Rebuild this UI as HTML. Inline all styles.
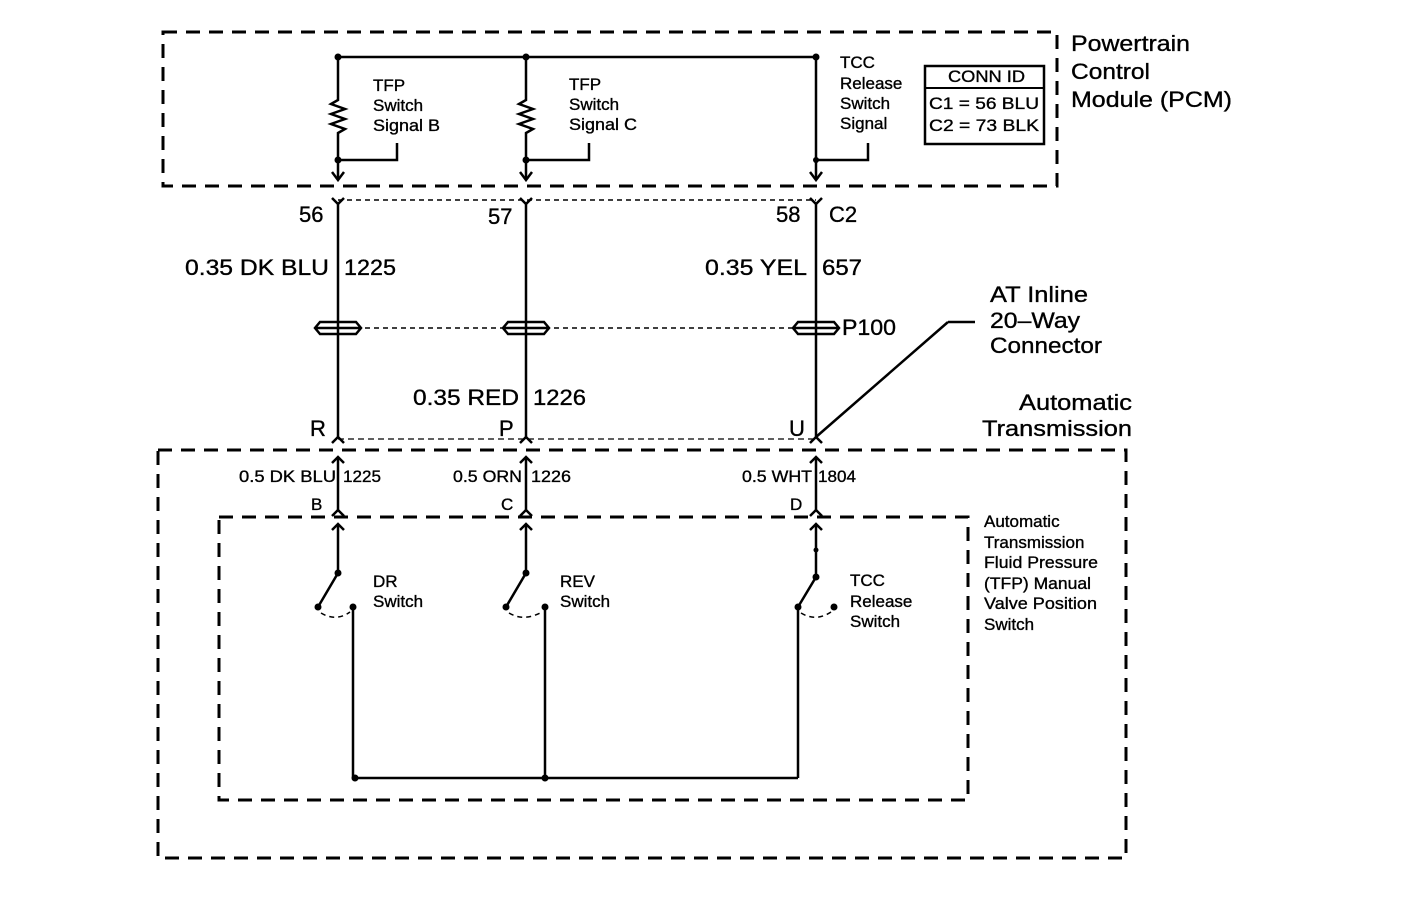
<!DOCTYPE html>
<html><head><style>html,body{margin:0;padding:0;background:#fff}svg{display:block}text{font-family:"Liberation Sans",Arial,sans-serif;fill:#000;stroke:#000;stroke-width:0.35}</style></head><body>
<svg width="1408" height="904" viewBox="0 0 1408 904" xmlns="http://www.w3.org/2000/svg">
<g fill="none" stroke="#000">
<rect x="163" y="32" width="894" height="154" stroke-width="3" stroke-dasharray="14,9"/>
<rect x="158" y="450" width="968" height="408" stroke-width="3" stroke-dasharray="14,9"/>
<rect x="219" y="517" width="749" height="283" stroke-width="3" stroke-dasharray="14,9"/>
<g stroke-width="2.5">
<path d="M338 57H816"/>
<path d="M338 57V100l-7 4 14 5-14 5 14 5-14 5 14 5-7 4V180"/>
<path d="M526 57V100l-7 4 14 5-14 5 14 5-14 5 14 5-7 4V180"/>
<path d="M816 57V180"/>
<path d="M338 160H397V143M526 160H589V143M816 160H868V143"/>
<path d="M332 172l6 8 6-8M520 172l6 8 6-8M810 172l6 8 6-8"/>
<path d="M332 198l6 6 6-6M520 198l6 6 6-6M810 198l6 6 6-6"/>
<path d="M338 204V437M526 204V437M816 204V437"/>
<path d="M332 443l6-6 6 6M520 443l6-6 6 6M810 443l6-6 6 6"/>
<path d="M332 463l6-6 6 6M520 463l6-6 6 6M810 463l6-6 6 6"/>
<path d="M338 457V510M526 457V510M816 457V510"/>
<path d="M332 516l6-6 6 6M520 516l6-6 6 6M810 516l6-6 6 6"/>
<path d="M332 530l6-6 6 6M520 530l6-6 6 6M810 530l6-6 6 6"/>
<path d="M338 524V573L318 607M526 524V573L506 607M816 524V577L798 607"/>
<path d="M353 607V778M545 607V778M798 607V778M355 778H798"/>
<path d="M948 322L816 437M948 322H975"/>
</g>
<g stroke-width="1.5" stroke-dasharray="5,4">
<path d="M338 200H816M338 328H816"/>
<path d="M321 613Q336 622 350 612M509 613Q524 622 542 612M801 613Q816 622 831 612"/>
</g>
<g stroke-width="1.2" stroke-dasharray="6,4">
<path d="M338 439H816"/>
</g>
<g stroke-width="2.5">
<path d="M320 322h36l5 6-5 6h-36l-5-6z M316 328h44"/>
<path d="M508 322h36l5 6-5 6h-36l-5-6z M504 328h44"/>
<path d="M798 322h36l5 6-5 6h-36l-5-6z M794 328h44"/>
</g>
<rect x="925" y="66" width="119" height="78" stroke-width="2.5"/>
<path d="M925 88H1044" stroke-width="2"/>
</g>
<g fill="#000">
<circle cx="338" cy="57" r="3.5"/><circle cx="526" cy="57" r="3.5"/><circle cx="816" cy="57" r="3.5"/>
<circle cx="338" cy="160" r="3.5"/><circle cx="526" cy="160" r="3.5"/><circle cx="816" cy="160" r="3"/>
<circle cx="338" cy="573" r="3.5"/><circle cx="318" cy="607" r="3.5"/><circle cx="353" cy="607" r="3.5"/>
<circle cx="526" cy="573" r="3.5"/><circle cx="506" cy="607" r="3.5"/><circle cx="545" cy="607" r="3.5"/>
<circle cx="816" cy="550" r="2.5"/><circle cx="816" cy="577" r="3.5"/><circle cx="798" cy="607" r="3.5"/><circle cx="834" cy="607" r="3.5"/>
<circle cx="355" cy="778" r="3.5"/><circle cx="545" cy="778" r="3.5"/>
</g>
<g font-size="17" lengthAdjust="spacingAndGlyphs">
<text x="373" y="91">TFP</text><text x="373" y="111">Switch</text><text x="373" y="131" textLength="67" lengthAdjust="spacingAndGlyphs">Signal B</text>
<text x="569" y="90">TFP</text><text x="569" y="110">Switch</text><text x="569" y="130" textLength="68" lengthAdjust="spacingAndGlyphs">Signal C</text>
<text x="840" y="68">TCC</text><text x="840" y="89">Release</text><text x="840" y="109">Switch</text><text x="840" y="129">Signal</text>
<text x="948" y="82" textLength="77" lengthAdjust="spacingAndGlyphs">CONN ID</text><text x="929" y="109" textLength="110" lengthAdjust="spacingAndGlyphs">C1 = 56 BLU</text><text x="929" y="131" textLength="110" lengthAdjust="spacingAndGlyphs">C2 = 73 BLK</text>
<text x="373" y="587">DR</text><text x="373" y="607">Switch</text>
<text x="560" y="587">REV</text><text x="560" y="607">Switch</text>
<text x="850" y="586">TCC</text><text x="850" y="607">Release</text><text x="850" y="627">Switch</text>
<text x="984" y="527">Automatic</text><text x="984" y="548">Transmission</text><text x="984" y="568" textLength="114" lengthAdjust="spacingAndGlyphs">Fluid Pressure</text><text x="984" y="589" textLength="107" lengthAdjust="spacingAndGlyphs">(TFP) Manual</text><text x="984" y="609" textLength="113" lengthAdjust="spacingAndGlyphs">Valve Position</text><text x="984" y="630">Switch</text>
<text x="239" y="482" textLength="97" lengthAdjust="spacingAndGlyphs">0.5 DK BLU</text><text x="343" y="482" textLength="38" lengthAdjust="spacingAndGlyphs">1225</text>
<text x="453" y="482" textLength="69" lengthAdjust="spacingAndGlyphs">0.5 ORN</text><text x="531" y="482" textLength="40" lengthAdjust="spacingAndGlyphs">1226</text>
<text x="742" y="482" textLength="70" lengthAdjust="spacingAndGlyphs">0.5 WHT</text><text x="818" y="482" textLength="38" lengthAdjust="spacingAndGlyphs">1804</text>
<text x="311" y="510">B</text><text x="501" y="510">C</text><text x="790" y="510">D</text>
</g>
<g font-size="22">
<text x="1071" y="51" textLength="119" lengthAdjust="spacingAndGlyphs">Powertrain</text><text x="1071" y="79" textLength="79" lengthAdjust="spacingAndGlyphs">Control</text><text x="1071" y="107" textLength="161" lengthAdjust="spacingAndGlyphs">Module (PCM)</text>
<text x="299" y="222">56</text><text x="488" y="224">57</text><text x="776" y="222">58</text><text x="829" y="222">C2</text>
<text x="185" y="275" textLength="144" lengthAdjust="spacingAndGlyphs">0.35 DK BLU</text><text x="344" y="275" textLength="52" lengthAdjust="spacingAndGlyphs">1225</text>
<text x="705" y="275" textLength="102" lengthAdjust="spacingAndGlyphs">0.35 YEL</text><text x="822" y="275" textLength="40" lengthAdjust="spacingAndGlyphs">657</text>
<text x="842" y="335" textLength="54" lengthAdjust="spacingAndGlyphs">P100</text>
<text x="990" y="302" textLength="98" lengthAdjust="spacingAndGlyphs">AT Inline</text><text x="990" y="328" textLength="90" lengthAdjust="spacingAndGlyphs">20–Way</text><text x="990" y="353" textLength="112" lengthAdjust="spacingAndGlyphs">Connector</text>
<text x="413" y="405" textLength="106" lengthAdjust="spacingAndGlyphs">0.35 RED</text><text x="533" y="405" textLength="53" lengthAdjust="spacingAndGlyphs">1226</text>
<text x="310" y="436">R</text><text x="499" y="436">P</text><text x="789" y="436">U</text>
<text x="1019" y="410" textLength="113" lengthAdjust="spacingAndGlyphs">Automatic</text><text x="982" y="436" textLength="150" lengthAdjust="spacingAndGlyphs">Transmission</text>
</g>
</svg>
</body></html>
